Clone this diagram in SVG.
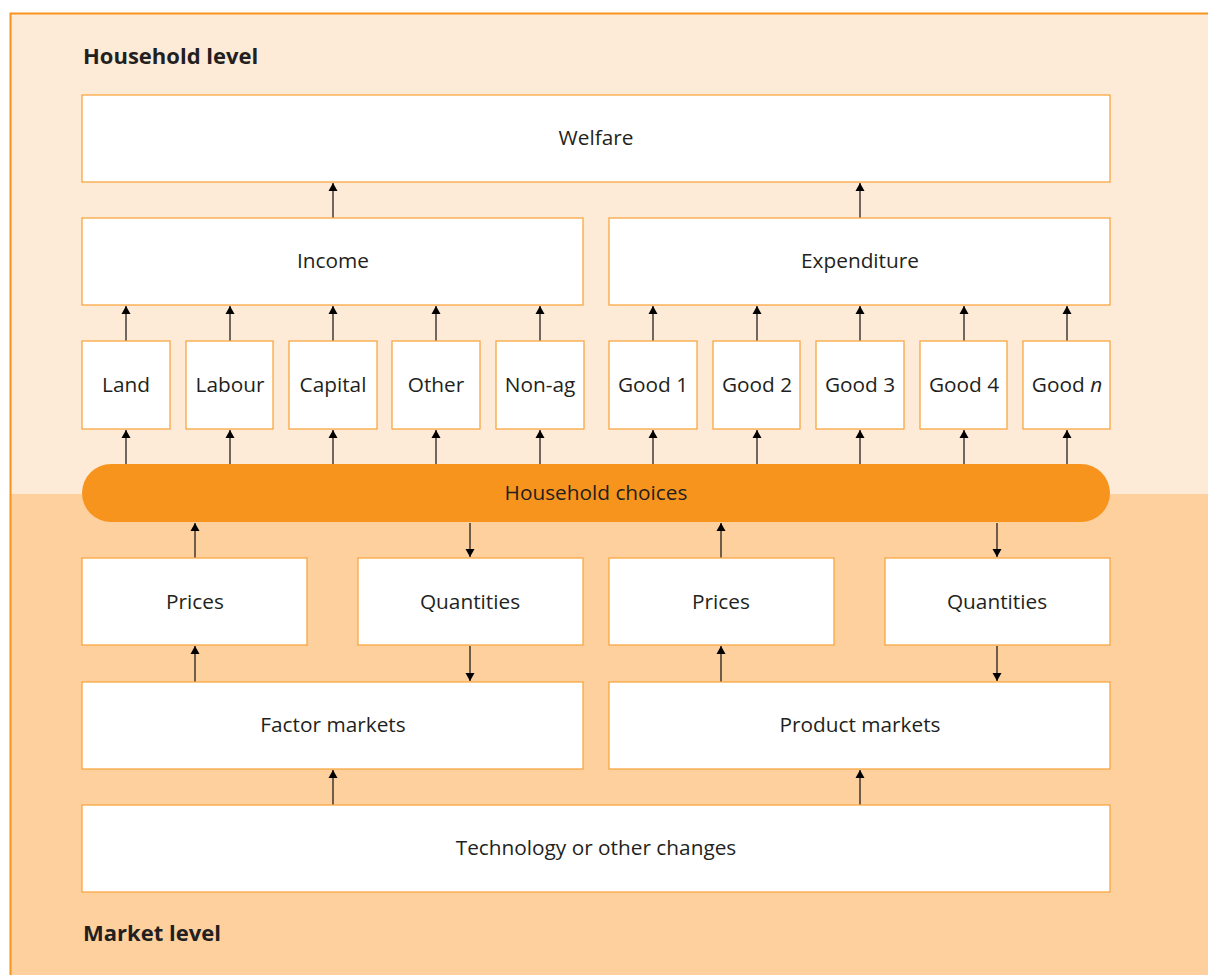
<svg xmlns="http://www.w3.org/2000/svg" width="1208" height="975" viewBox="0 0 1208 975">
<style>
.box{fill:#fff;stroke:#F9A743;stroke-width:1.3}
.t{font-family:"Open Sans","Liberation Sans",sans-serif;font-size:20.8px;fill:#231F20;text-anchor:middle;dominant-baseline:central}
.h{font-family:"Open Sans","Liberation Sans",sans-serif;font-size:22px;font-weight:bold;fill:#231F20}
.c{stroke:#231F20;stroke-width:1.3;fill:none;marker-end:url(#ah)}
</style>
<defs>
<marker id="ah" viewBox="0 0 8 12" refX="8" refY="6" markerWidth="8" markerHeight="12" markerUnits="userSpaceOnUse" orient="auto">
<path d="M0,1.5 L8,6 L0,10.5 z" fill="#000"/>
</marker>
</defs>
<rect x="0" y="0" width="1208" height="975" fill="#fff"/>
<rect x="10" y="13" width="1198" height="481" fill="#FDEBD7"/>
<rect x="10" y="494" width="1198" height="481" fill="#FDD09E"/>
<path d="M10.5,975 V13.5 H1208" fill="none" stroke="#F7941E" stroke-width="2"/>
<text class="h" x="83" y="64">Household level</text>
<text class="h" x="83" y="941">Market level</text>

<g id="connectors">
<line class="c" x1="333" y1="218" x2="333" y2="183"/>
<line class="c" x1="860" y1="218" x2="860" y2="183"/>
<line class="c" x1="126" y1="341" x2="126" y2="306"/>
<line class="c" x1="230" y1="341" x2="230" y2="306"/>
<line class="c" x1="333" y1="341" x2="333" y2="306"/>
<line class="c" x1="436" y1="341" x2="436" y2="306"/>
<line class="c" x1="540" y1="341" x2="540" y2="306"/>
<line class="c" x1="653" y1="341" x2="653" y2="306"/>
<line class="c" x1="757" y1="341" x2="757" y2="306"/>
<line class="c" x1="860" y1="341" x2="860" y2="306"/>
<line class="c" x1="964" y1="341" x2="964" y2="306"/>
<line class="c" x1="1067" y1="341" x2="1067" y2="306"/>
<line class="c" x1="126" y1="464" x2="126" y2="430"/>
<line class="c" x1="230" y1="464" x2="230" y2="430"/>
<line class="c" x1="333" y1="464" x2="333" y2="430"/>
<line class="c" x1="436" y1="464" x2="436" y2="430"/>
<line class="c" x1="540" y1="464" x2="540" y2="430"/>
<line class="c" x1="653" y1="464" x2="653" y2="430"/>
<line class="c" x1="757" y1="464" x2="757" y2="430"/>
<line class="c" x1="860" y1="464" x2="860" y2="430"/>
<line class="c" x1="964" y1="464" x2="964" y2="430"/>
<line class="c" x1="1067" y1="464" x2="1067" y2="430"/>
<line class="c" x1="195" y1="558" x2="195" y2="523"/>
<line class="c" x1="470" y1="523" x2="470" y2="557"/>
<line class="c" x1="721" y1="558" x2="721" y2="523"/>
<line class="c" x1="997" y1="523" x2="997" y2="557"/>
<line class="c" x1="195" y1="682" x2="195" y2="646"/>
<line class="c" x1="470" y1="646" x2="470" y2="681"/>
<line class="c" x1="721" y1="682" x2="721" y2="646"/>
<line class="c" x1="997" y1="646" x2="997" y2="681"/>
<line class="c" x1="333" y1="805" x2="333" y2="770"/>
<line class="c" x1="860" y1="805" x2="860" y2="770"/>
</g>

<g id="welfare"><rect class="box" x="82" y="95" width="1028" height="87"/><text class="t" x="596" y="137">Welfare</text></g>
<g id="income"><rect class="box" x="82" y="218" width="501" height="87"/><text class="t" x="333" y="260">Income</text></g>
<g id="expenditure"><rect class="box" x="609" y="218" width="501" height="87"/><text class="t" x="860" y="260">Expenditure</text></g>

<g id="land"><rect class="box" x="82" y="341" width="88" height="88"/><text class="t" x="126" y="384">Land</text></g>
<g id="labour"><rect class="box" x="186" y="341" width="87" height="88"/><text class="t" x="230" y="384">Labour</text></g>
<g id="capital"><rect class="box" x="289" y="341" width="88" height="88"/><text class="t" x="333" y="384">Capital</text></g>
<g id="other"><rect class="box" x="392" y="341" width="88" height="88"/><text class="t" x="436" y="384">Other</text></g>
<g id="nonag"><rect class="box" x="496" y="341" width="88" height="88"/><text class="t" x="540" y="384">Non-ag</text></g>
<g id="good1"><rect class="box" x="609" y="341" width="88" height="88"/><text class="t" x="653" y="384">Good 1</text></g>
<g id="good2"><rect class="box" x="713" y="341" width="87" height="88"/><text class="t" x="757" y="384">Good 2</text></g>
<g id="good3"><rect class="box" x="816" y="341" width="88" height="88"/><text class="t" x="860" y="384">Good 3</text></g>
<g id="good4"><rect class="box" x="920" y="341" width="87" height="88"/><text class="t" x="964" y="384">Good 4</text></g>
<g id="goodn"><rect class="box" x="1023" y="341" width="87" height="88"/><text class="t" x="1067" y="384">Good <tspan font-style="italic">n</tspan></text></g>

<g id="household-choices"><rect x="82" y="464" width="1028" height="58" rx="29" ry="29" fill="#F7941E"/><text class="t" x="596" y="492">Household choices</text></g>

<g id="prices-factor"><rect class="box" x="82" y="558" width="225" height="87"/><text class="t" x="195" y="601">Prices</text></g>
<g id="quantities-factor"><rect class="box" x="358" y="558" width="225" height="87"/><text class="t" x="470" y="601">Quantities</text></g>
<g id="prices-product"><rect class="box" x="609" y="558" width="225" height="87"/><text class="t" x="721" y="601">Prices</text></g>
<g id="quantities-product"><rect class="box" x="885" y="558" width="225" height="87"/><text class="t" x="997" y="601">Quantities</text></g>

<g id="factor-markets"><rect class="box" x="82" y="682" width="501" height="87"/><text class="t" x="333" y="724">Factor markets</text></g>
<g id="product-markets"><rect class="box" x="609" y="682" width="501" height="87"/><text class="t" x="860" y="724">Product markets</text></g>
<g id="technology"><rect class="box" x="82" y="805" width="1028" height="87"/><text class="t" x="596" y="847">Technology or other changes</text></g>
</svg>
